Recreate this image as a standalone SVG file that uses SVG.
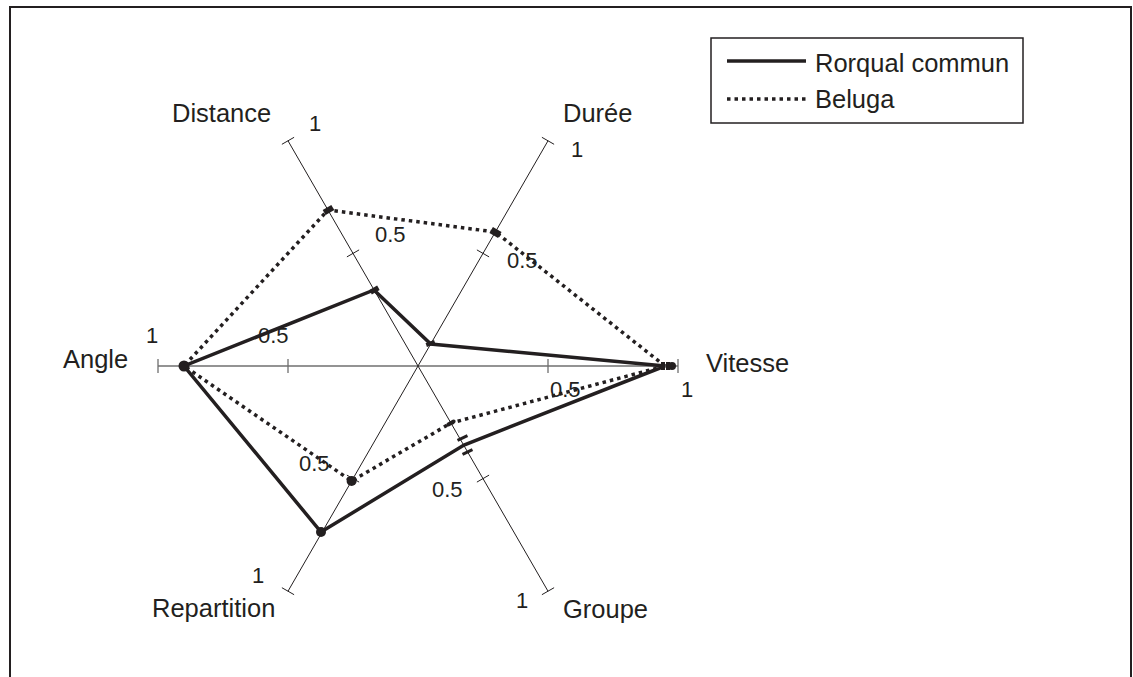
<svg xmlns="http://www.w3.org/2000/svg" width="1133" height="677" viewBox="0 0 1133 677">
<style>
text{font-family:"Liberation Sans",Arial,sans-serif;fill:#231f20}
.lab{font-size:25.5px}
.num{font-size:22px}
.ax{stroke:#231f20;stroke-width:1;fill:none}
.axh{stroke:#6f6f6f;stroke-width:1.3;fill:none}
.solid{stroke:#231f20;stroke-width:3.5;fill:none;stroke-linejoin:miter}
.dot{stroke:#231f20;stroke-width:3.5;fill:none;stroke-dasharray:3.5 4}
.mk{fill:#231f20}
</style>
<rect x="0" y="0" width="1133" height="677" fill="#fff"/>
<rect x="10" y="7" width="1121" height="690" fill="none" stroke="#231f20" stroke-width="2"/>

<g id="axes">
<line class="axh" x1="158" y1="366" x2="678" y2="366"/>
<line class="ax" x1="288" y1="140.8" x2="548" y2="591.2"/>
<line class="ax" x1="548" y1="140.8" x2="288" y2="591.2"/>
<line class="axh" x1="158" y1="359" x2="158" y2="373"/>
<line class="axh" x1="288" y1="359" x2="288" y2="373"/>
<line class="axh" x1="548" y1="359" x2="548" y2="373"/>
<line class="axh" x1="678" y1="359" x2="678" y2="373"/>
<line class="ax" x1="281.9" y1="144.3" x2="294.1" y2="137.3"/>
<line class="ax" x1="346.9" y1="256.9" x2="359.1" y2="249.9"/>
<line class="ax" x1="541.9" y1="594.7" x2="554.1" y2="587.7"/>
<line class="ax" x1="476.9" y1="482.1" x2="489.1" y2="475.1"/>
<line class="ax" x1="541.9" y1="137.3" x2="554.1" y2="144.3"/>
<line class="ax" x1="476.9" y1="249.9" x2="489.1" y2="256.9"/>
<line class="ax" x1="281.9" y1="587.7" x2="294.1" y2="594.7"/>
<line class="ax" x1="346.9" y1="475.1" x2="359.1" y2="482.1"/>
</g>

<g id="axis-labels">
<text class="lab" x="172" y="122">Distance</text>
<text class="lab" x="563" y="122">Durée</text>
<text class="lab" x="63" y="368">Angle</text>
<text class="lab" x="706" y="372">Vitesse</text>
<text class="lab" x="152" y="617">Repartition</text>
<text class="lab" x="563" y="618">Groupe</text>
</g>

<g id="scale-labels">
<text class="num" x="309" y="131">1</text>
<text class="num" x="375" y="242">0.5</text>
<text class="num" x="571" y="157">1</text>
<text class="num" x="507" y="268">0.5</text>
<text class="num" x="146" y="343">1</text>
<text class="num" x="258" y="343">0.5</text>
<text class="num" x="550" y="397">0.5</text>
<text class="num" x="681" y="397">1</text>
<text class="num" x="432" y="497">0.5</text>
<text class="num" x="516" y="608">1</text>
<text class="num" x="299" y="471">0.5</text>
<text class="num" x="252" y="583">1</text>
</g>

<g id="series-rorqual">
<polygon class="solid" points="665,366 430.7,344 374,290 184,366 321,532 464,445"/>
<rect class="mk" x="370" y="287.5" width="9" height="5" transform="rotate(-30 374.5 290)"/>
<rect class="mk" x="426" y="341.5" width="9" height="4" transform="rotate(-20 430.5 343.5)"/>
<circle class="mk" cx="184" cy="366" r="5.5"/>
<circle class="mk" cx="321" cy="532" r="5"/>
<rect class="mk" x="457" y="436.5" width="11" height="3" transform="rotate(-25 462.5 438)"/>
<rect class="mk" x="462" y="450.5" width="11" height="3" transform="rotate(-25 467.5 452)"/>
<rect class="mk" x="661" y="362" width="4" height="8"/>
<rect class="mk" x="666" y="362" width="4" height="8"/>
<circle class="mk" cx="672" cy="366" r="4"/>
</g>

<g id="series-beluga">
<polygon class="dot" points="665,366 495.4,232 328,210 184,366 351.6,481 451,423"/>
<rect class="mk" x="323.5" y="207" width="10" height="6" transform="rotate(-30 328.5 210)"/>
<rect class="mk" x="490.5" y="229" width="10" height="7" transform="rotate(30 495.5 232.5)"/>
<circle class="mk" cx="351.6" cy="481" r="5"/>
<rect class="mk" x="446" y="421" width="10" height="4" rx="2" transform="rotate(-30 451 423)"/>
</g>

<g id="legend">
<rect x="711" y="38" width="312" height="85" fill="#fff" stroke="#231f20" stroke-width="1.5"/>
<line class="solid" x1="727" y1="61" x2="806" y2="61"/>
<text class="lab" x="815" y="72">Rorqual commun</text>
<line class="dot" x1="727" y1="99" x2="806" y2="99"/>
<text class="lab" x="815" y="108">Beluga</text>
</g>
</svg>
